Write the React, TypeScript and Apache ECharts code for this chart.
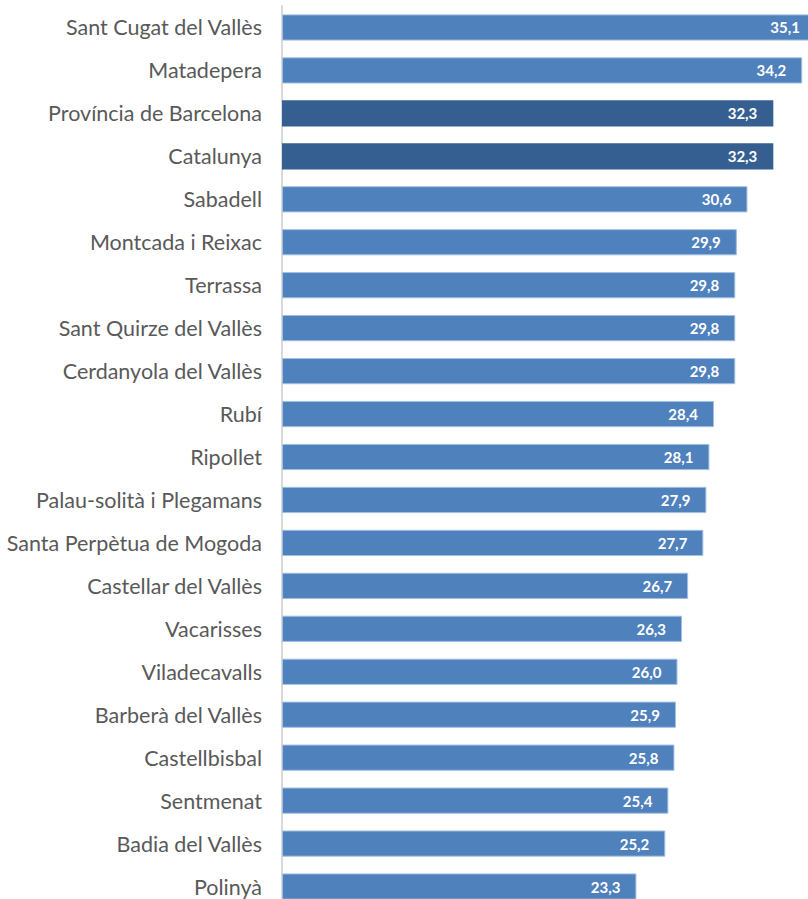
import React, { useEffect, useRef } from "react";
import * as echarts from "echarts";

const categories = [
  "Sant Cugat del Vallès",
  "Matadepera",
  "Província de Barcelona",
  "Catalunya",
  "Sabadell",
  "Montcada i Reixac",
  "Terrassa",
  "Sant Quirze del Vallès",
  "Cerdanyola del Vallès",
  "Rubí",
  "Ripollet",
  "Palau-solità i Plegamans",
  "Santa Perpètua de Mogoda",
  "Castellar del Vallès",
  "Vacarisses",
  "Viladecavalls",
  "Barberà del Vallès",
  "Castellbisbal",
  "Sentmenat",
  "Badia del Vallès",
  "Polinyà",
];

const values = [
  35.1, 34.2, 32.3, 32.3, 30.6, 29.9, 29.8, 29.8, 29.8, 28.4, 28.1, 27.9, 27.7,
  26.7, 26.3, 26.0, 25.9, 25.8, 25.4, 25.2, 23.3,
];

const highlighted = ["Província de Barcelona", "Catalunya"];

export default function App() {
  const ref = useRef<HTMLDivElement>(null);
  useEffect(() => {
    if (!ref.current) return;
    document.body.style.margin = "0";
    document.body.style.overflow = "hidden";
    const chart = echarts.init(ref.current, undefined, { renderer: "svg" });
    chart.setOption({
      animation: false,
      grid: {
        left: 282,
        width: 526,
        top: 6,
        height: 902,
        containLabel: false,
        outerBoundsMode: "none",
      },
      xAxis: {
        type: "value",
        min: 0,
        max: 34.58,
        show: false,
      },
      yAxis: {
        type: "category",
        inverse: true,
        data: categories,
        axisLine: { show: true, lineStyle: { color: "#d9d9d9", width: 2 } },
        axisTick: { show: false },
        axisLabel: {
          color: "#595959",
          fontFamily: "Lato",
          fontSize: 21.5,
          margin: 20,
        },
      },
      series: [
        {
          type: "bar",
          clip: false,
          barCategoryGap: "39%",
          data: categories.map((c, i) => ({
            value: values[i],
            itemStyle: highlighted.includes(c)
              ? { color: "#365f91" }
              : { color: "#4f81bd", borderColor: "#a3bfe2", borderWidth: 1 },
          })),
          label: {
            show: true,
            position: "insideRight",
            distance: 16,
            color: "#ffffff",
            fontFamily: "Lato",
            fontWeight: "bold",
            fontSize: 15,
            formatter: (p: any) => p.value.toFixed(1).replace(".", ","),
          },
        },
      ],
    });
    return () => chart.dispose();
  }, []);
  return <div ref={ref} style={{ width: 808, height: 910 }} />;
}
